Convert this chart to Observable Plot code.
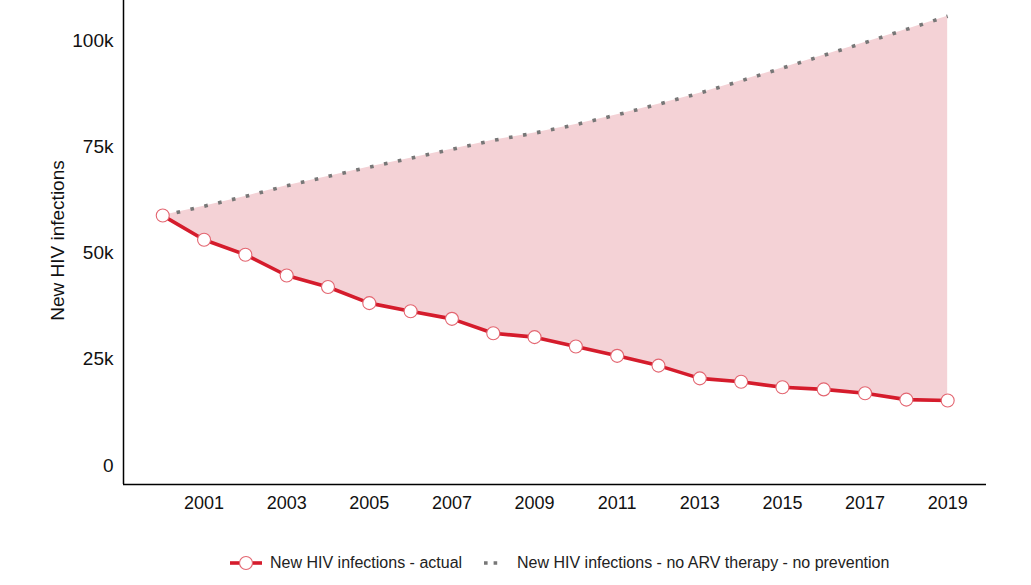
<!DOCTYPE html>
<html>
<head>
<meta charset="utf-8">
<script src="https://cdn.jsdelivr.net/npm/d3@7"></script>
<script src="https://cdn.jsdelivr.net/npm/@observablehq/plot@0.6"></script>
<style>
  html, body { margin: 0; padding: 0; background: #fff; }
  body { width: 1031px; height: 585px; overflow: hidden; font-family: "Liberation Sans", Arial, sans-serif; }
  #legend { position: relative; height: 50px; font-size: 16px; color: #222; }
  .item { position: absolute; top: 21px; display: flex; align-items: center; height: 24px; }
</style>
</head>
<body>
<div id="chart"></div>
<div id="legend"></div>
<script>
const years = [2000,2001,2002,2003,2004,2005,2006,2007,2008,2009,2010,2011,2012,2013,2014,2015,2016,2017,2018,2019];
const actual = [58800,53100,49600,44700,42000,38200,36300,34500,31100,30200,28000,25800,23500,20500,19700,18400,17900,17000,15500,15300];
const noArv = [58800,61000,63300,65800,68000,70200,72300,74400,76500,78200,80200,82500,85000,87600,90500,93500,96500,99500,102600,105700];
const xTicks = [2001,2003,2005,2007,2009,2011,2013,2015,2017,2019];
const yTicks = [0,25000,50000,75000,100000];
const xDomain = [1999.05, 2019.94];
const yDomain = [-4470, 109400];
const seriesNames = ["New HIV infections - actual", "New HIV infections - no ARV therapy - no prevention"];
const yLabel = "New HIV infections";

const RED = "#d51c2c", PINK = "#f4d2d6", GREY = "#777777", CIRCLE = "#e36570";

const data = years.map((y, i) => ({year: y, actual: actual[i], noArv: noArv[i]}));

const chart = Plot.plot({
  width: 1031,
  height: 530,
  marginLeft: 123,
  marginRight: 45,
  marginTop: 0,
  marginBottom: 46,
  style: {fontFamily: "'Liberation Sans', Arial, sans-serif", color: "#111", background: "#fff"},
  x: {type: "linear", domain: xDomain, ticks: xTicks, tickFormat: d => String(d), tickSize: 0, tickPadding: 12, label: null},
  y: {domain: yDomain, ticks: yTicks, tickFormat: d => d === 0 ? "0" : (d / 1000) + "k", tickSize: 0, tickPadding: 10, label: null},
  marks: [
    Plot.areaY(data, {x: "year", y1: "actual", y2: "noArv", fill: PINK}),
    Plot.line(data, {x: "year", y: "noArv", stroke: GREY, strokeWidth: 3.6, strokeDasharray: "3.6,10.6", strokeLinecap: "butt"}),
    Plot.line(data, {x: "year", y: "actual", stroke: RED, strokeWidth: 3.6}),
    Plot.dot(data, {x: "year", y: "actual", r: 6.5, fill: "white", stroke: CIRCLE, strokeWidth: 1.1}),
    Plot.ruleX([xDomain[0]], {stroke: "#000", strokeWidth: 1.5}),
    Plot.ruleY([yDomain[0]], {stroke: "#000", strokeWidth: 1.5}),
    Plot.text([yLabel], {frameAnchor: "left", dx: -66, dy: -2, rotate: -90, textAnchor: "middle", lineAnchor: "middle", fontSize: 19, fill: "#111"})
  ]
});
chart.querySelectorAll('[aria-label="x-axis tick label"]').forEach(el => el.setAttribute("font-size", "18"));
chart.querySelectorAll('[aria-label="y-axis tick label"]').forEach(el => el.setAttribute("font-size", "19"));
document.getElementById("chart").appendChild(chart);

const legend = document.getElementById("legend");
legend.innerHTML = `
  <div class="item" style="left:230px">
    <svg width="32" height="16"><line x1="0" y1="8" x2="32" y2="8" stroke="${RED}" stroke-width="3.6"/><circle cx="16" cy="8" r="6.5" fill="white" stroke="${CIRCLE}" stroke-width="1.1"/></svg>
    <span style="margin-left:8px">${seriesNames[0]}</span>
  </div>
  <div class="item" style="left:484px">
    <svg width="14" height="16"><line x1="0" y1="8" x2="14" y2="8" stroke="${GREY}" stroke-width="3.6" stroke-dasharray="3.6,6"/></svg>
    <span style="margin-left:19px">${seriesNames[1]}</span>
  </div>`;
</script>
</body>
</html>
